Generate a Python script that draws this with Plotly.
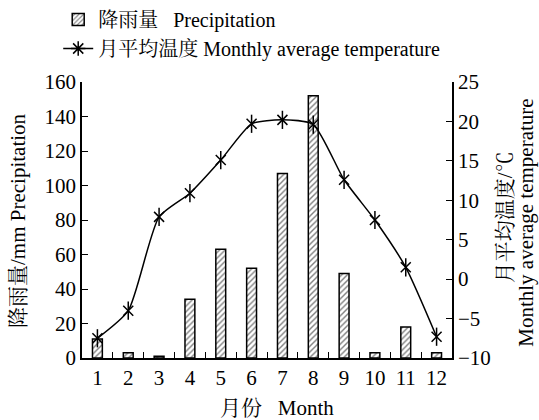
import plotly.graph_objects as go

months = ["1", "2", "3", "4", "5", "6", "7", "8", "9", "10", "11", "12"]
precipitation = [11, 3, 1, 34, 63, 52, 107, 152, 49, 3, 18, 3]
temperature = [-7.5, -4.0, 7.9, 10.9, 15.1, 19.7, 20.2, 19.6, 12.6, 7.5, 1.5, -7.3]

FONT = "Liberation Serif, Times New Roman, Noto Serif CJK SC, Noto Sans CJK SC, serif"
FS = 21

fig = go.Figure()
fig.add_trace(go.Bar(
    x=months, y=precipitation, name="降雨量   Precipitation",
    width=0.32,
    marker=dict(color="white", line=dict(color="black", width=1.5),
                pattern=dict(shape="/", fgcolor="black", bgcolor="white", size=4, solidity=0.35)),
    yaxis="y",
))
# temperature line with X markers
fig.add_trace(go.Scatter(
    x=months, y=temperature, name="月平均温度 Monthly average temperature",
    mode="lines+markers", showlegend=False,
    line=dict(color="black", width=1.5, shape="spline", smoothing=0.6),
    marker=dict(symbol="x-thin-open", size=10, color="black", line=dict(color="black", width=1.5)),
    yaxis="y2",
))
# vertical bar of the asterisk markers
fig.add_trace(go.Scatter(
    x=months, y=temperature, mode="markers", showlegend=False, hoverinfo="skip",
    marker=dict(symbol="line-ns-open", size=13, color="black", line=dict(color="black", width=1.5)),
    yaxis="y2",
))
# legend entry for the temperature series
fig.add_trace(go.Scatter(
    x=[None], y=[None], name="月平均温度 Monthly average temperature",
    mode="lines+markers",
    line=dict(color="black", width=1.5),
    marker=dict(symbol="asterisk-open", size=12, color="black", line=dict(color="black", width=1.5)),
    yaxis="y2",
))

fig.update_layout(
    width=539, height=420,
    margin=dict(l=82, r=87, t=82, b=62, autoexpand=False),
    paper_bgcolor="white", plot_bgcolor="white",
    font=dict(family=FONT, size=FS, color="black"),
    showlegend=True,
    legend=dict(xref="container", yref="container", x=0.108, y=1.0,
                xanchor="left", yanchor="top",
                bgcolor="rgba(0,0,0,0)", font=dict(size=20), tracegroupgap=0,
                itemwidth=30),
    xaxis=dict(type="category", tickson="boundaries", ticks="inside", ticklen=6,
               tickcolor="black", showline=True, linecolor="black", linewidth=1.5,
               showgrid=False, range=[-0.5, 11.5], tickfont=dict(size=FS),
               automargin=False),
    yaxis=dict(range=[0, 160], dtick=20, ticks="inside", ticklen=6, tickcolor="black",
               showline=True, linecolor="black", linewidth=1.5, showgrid=False,
               zeroline=False, tickfont=dict(size=FS), automargin=False),
    yaxis2=dict(range=[-10, 25], dtick=5, ticks="inside", ticklen=6, tickcolor="black",
                overlaying="y", side="right", showline=True, linecolor="black",
                linewidth=1.5, showgrid=False, zeroline=False, tickfont=dict(size=FS),
                automargin=False),
    annotations=[
        dict(text="降雨量/mm Precipitation", xref="paper", yref="paper",
             x=-0.173, y=0.5, xanchor="center", yanchor="middle", textangle=-90,
             showarrow=False, font=dict(size=FS)),
        dict(text="月平均温度/℃", xref="paper", yref="paper",
             x=1.143, y=0.51, xanchor="center", yanchor="middle", textangle=-90,
             showarrow=False, font=dict(size=FS)),
        dict(text="Monthly average temperature", xref="paper", yref="paper",
             x=1.2, y=0.49, xanchor="center", yanchor="middle", textangle=-90,
             showarrow=False, font=dict(size=FS)),
        dict(text="月份   Month", xref="paper", yref="paper",
             x=0.527, y=-0.181, xanchor="center", yanchor="middle",
             showarrow=False, font=dict(size=FS)),
    ],
)

fig.write_html("out.html", config={"displayModeBar": False},
               post_script="document.body.style.margin='0';")
